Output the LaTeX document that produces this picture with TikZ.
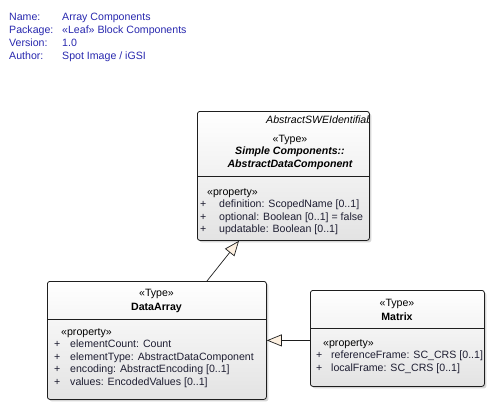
\documentclass[tikz,border=0pt]{standalone}
\usepackage{fontspec}
\setmainfont{Liberation Sans}
\usetikzlibrary{arrows.meta,shadows}
\definecolor{hdr}{RGB}{40,40,175}
\definecolor{cream}{RGB}{253,240,224}
\definecolor{attr}{RGB}{30,30,50}
\definecolor{edge}{RGB}{30,30,30}
\begin{document}
\begin{tikzpicture}[x=1pt,y=-1pt,
  fs/.style={font=\fontsize{10.6}{12}\selectfont},
  hd/.style={fs,text=hdr,inner sep=0,anchor=base west},
  cls/.style={draw=edge,line width=0.8pt,rounded corners=2.5pt,top color=white,bottom color=black!11,
    anchor=north west,inner sep=0,
    drop shadow={shadow xshift=2pt,shadow yshift=-2pt,fill=black!35,opacity=0.45}},
  ctr/.style={fs,inner sep=0,anchor=base},
  lt/.style={fs,text=attr,inner sep=0,anchor=base west},
  gen/.style={draw=edge,line width=0.7pt,-{Triangle[length=15pt,width=12pt,fill=cream]}},
  div/.style={draw=edge,line width=0.8pt}]
\useasboundingbox[fill=white] (0,0) rectangle (493,410);
% header
\node[hd] (n1) at (9,20) {Name:};
\node[hd] (v1) at (62,20) {Array Components};
\node[hd] (n2) at (9,33) {Package:};
\node[hd] (v2) at (62,33) {«Leaf» Block Components};
\node[hd] (n3) at (9,46) {Version:};
\node[hd] (v3) at (62,46) {1.0};
\node[hd] (n4) at (9,59) {Author:};
\node[hd] (v4) at (62,59) {Spot Image / iGSI};
% AbstractDataComponent
\node[cls,minimum width=172pt,minimum height=129pt] (adc) at (197,111) {};
\begin{scope}
\clip (adc.north west) rectangle ([xshift=-1pt]adc.south east);
\node[fs,inner sep=0,anchor=base west] (adcp) at (266,123) {\itshape AbstractSWEIdentifiable};
\end{scope}
\node[ctr] (adcs) at (290,142) {«Type»};
\node[ctr] (adcn1) at (290,154.5) {\bfseries\itshape Simple Components::};
\node[ctr] (adcn2) at (290,167) {\bfseries\itshape AbstractDataComponent};
\draw[div] (adc.west |- 0,176) -- (adc.east |- 0,176);
\node[lt,text=black] (adcpr) at (207,195) {«property»};
\node[lt] (adcp1) at (200,207.5) {+};
\node[lt] (adca1) at (219,207.5) {definition: ScopedName [0..1]};
\node[lt] (adcp2) at (200,220) {+};
\node[lt] (adca2) at (219,220) {optional: Boolean [0..1] = false};
\node[lt] (adcp3) at (200,232.5) {+};
\node[lt] (adca3) at (219,232.5) {updatable: Boolean [0..1]};
% DataArray
\node[cls,minimum width=219pt,minimum height=118pt] (da) at (47,281) {};
\node[ctr] (das) at (156.5,296) {«Type»};
\node[ctr] (dan) at (156.5,310) {\bfseries DataArray};
\draw[div] (da.west |- 0,319) -- (da.east |- 0,319);
\node[lt,text=black] (dapr) at (61,335) {«property»};
\node[lt] (dap1) at (54,347.5) {+};
\node[lt] (daa1) at (70,347.5) {elementCount: Count};
\node[lt] (dap2) at (54,360) {+};
\node[lt] (daa2) at (70,360) {elementType: AbstractDataComponent};
\node[lt] (dap3) at (54,372.5) {+};
\node[lt] (daa3) at (70,372.5) {encoding: AbstractEncoding [0..1]};
\node[lt] (dap4) at (54,385) {+};
\node[lt] (daa4) at (70,385) {values: EncodedValues [0..1]};
% Matrix
\node[cls,minimum width=174pt,minimum height=96pt] (mx) at (310,290) {};
\node[ctr] (mxs) at (397,306) {«Type»};
\node[ctr] (mxn) at (397,320) {\bfseries Matrix};
\draw[div] (mx.west |- 0,328) -- (mx.east |- 0,328);
\node[lt,text=black] (mxpr) at (323,346) {«property»};
\node[lt] (mxp1) at (316,358.5) {+};
\node[lt] (mxa1) at (331,358.5) {referenceFrame: SC\_CRS [0..1]};
\node[lt] (mxp2) at (316,371) {+};
\node[lt] (mxa2) at (331,371) {localFrame: SC\_CRS [0..1]};
% generalizations
\draw[gen] ([xshift=160pt]da.north west) -- ([xshift=42pt]adc.south west);
\draw[gen] (mx.west |- da.east) -- (da.east);
\end{tikzpicture}
\end{document}
